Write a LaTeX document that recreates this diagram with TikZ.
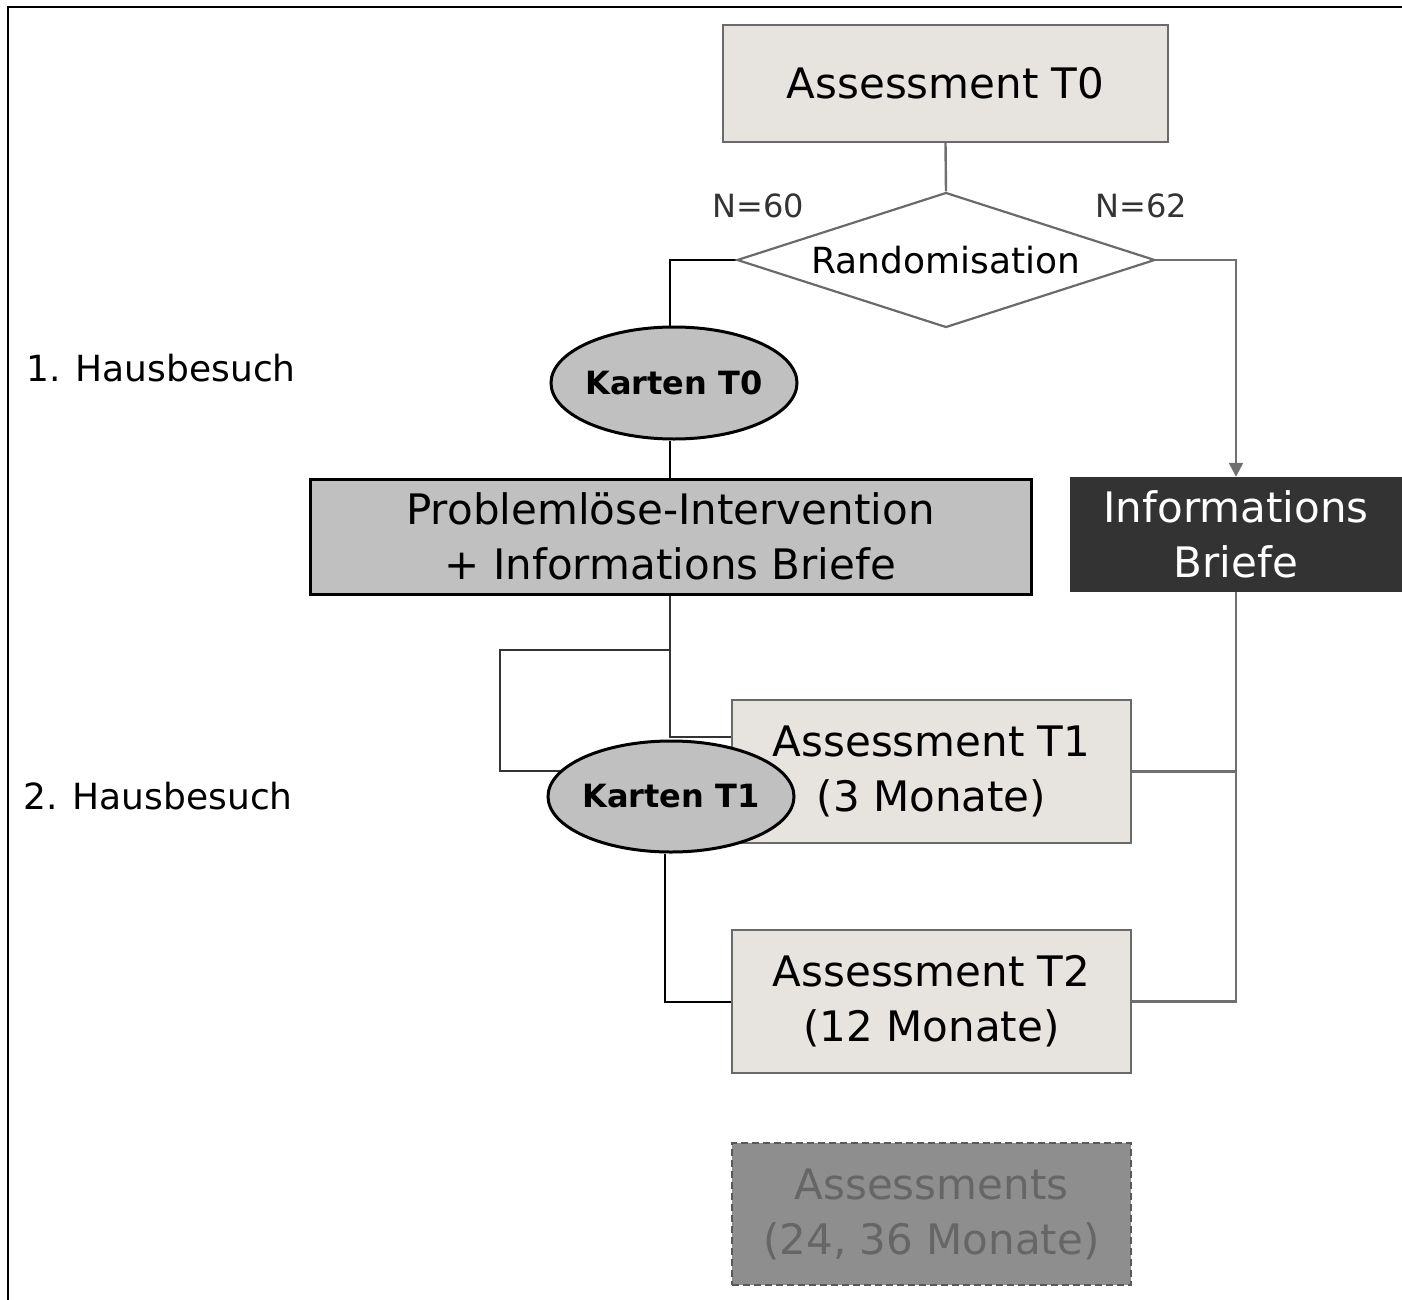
\documentclass[tikz,border=0pt]{standalone}
\usepackage{fontspec}
\setmainfont{DejaVu Sans}
\usetikzlibrary{shapes.geometric,arrows.meta,backgrounds}
\definecolor{boxfill}{HTML}{E7E4E0}
\definecolor{boxline}{HTML}{6A6A6A}
\definecolor{midgray}{HTML}{C0C0C0}
\definecolor{darkbox}{HTML}{333333}
\definecolor{conngray}{HTML}{707070}
\definecolor{dashfill}{HTML}{8E8E8E}
\definecolor{dashtext}{HTML}{666666}
\begin{document}
\begin{tikzpicture}[x=1pt,y=-1pt,
  every node/.style={inner sep=0pt, align=center},
  abox/.style={rectangle, draw=boxline, line width=2.2pt, fill=boxfill, font=\fontsize{42}{55}\selectfont},
  kbox/.style={ellipse, draw=black, line width=3pt, fill=midgray, font=\bfseries\fontsize{32}{36}\selectfont},
  conn/.style={line width=2pt, draw=black},
  gconn/.style={line width=2.4pt, draw=conngray},
  lbl/.style={font=\fontsize{32}{36}\selectfont}
]
\useasboundingbox (0,0) rectangle (1402,1300);
\draw[line width=2pt] (8,1300) -- (8,7) -- (1402,7);

\node[abox, minimum width=445pt, minimum height=117pt] (t0) at (945.5,83.5) {Assessment T0};
\node[diamond, aspect=3.096, draw=boxline, line width=2.2pt, fill=white, minimum width=418pt, minimum height=135pt,
      font=\fontsize{36}{40}\selectfont] (rand) at (946,260) {Randomisation};
\node[lbl, text=black!80] (n60) at (758,206) {N=60};
\node[lbl, text=black!80] (n62) at (1141,206) {N=62};
\node[kbox, minimum width=246pt, minimum height=112pt] (k0) at (674,383) {\makebox[0pt]{Karten T0}};
\node[rectangle, draw=black, line width=3pt, fill=midgray, minimum width=721pt, minimum height=115pt,
      font=\fontsize{42}{55}\selectfont] (pl) at (670.5,536.5) {Problemlöse-Intervention\\+ Informations Briefe};
\node[rectangle, fill=darkbox, text=white, minimum width=332pt, minimum height=115pt,
      font=\fontsize{42}{55}\selectfont] (ib) at (1236,534.5) {Informations\\Briefe};
\node[abox, minimum width=399pt, minimum height=143pt] (t1) at (931.5,771.5) {Assessment T1\\(3 Monate)};
\node[kbox, minimum width=246pt, minimum height=111pt] (k1) at (671,796.5) {\makebox[0pt]{Karten T1}};
\node[abox, minimum width=399pt, minimum height=143pt] (t2) at (931.5,1001.5) {Assessment T2\\(12 Monate)};
\node[rectangle, draw=black!65, dash pattern=on 7pt off 4pt, line width=2.2pt, fill=dashfill, text=dashtext,
      minimum width=399pt, minimum height=142pt, font=\fontsize{42}{55}\selectfont] (ta) at (931.5,1214) {Assessments\\(24, 36 Monate)};
\node[font=\fontsize{36}{40}\selectfont] (h1) at (161,368) {1. Hausbesuch};
\node[font=\fontsize{36}{40}\selectfont] (h2) at (158,796) {2. Hausbesuch};

\coordinate (a1) at (670,737);
\coordinate (a2) at (735,737);
\coordinate (a3) at (735,746);
\coordinate (l1) at (670,650);
\coordinate (l2) at (500,650);
\coordinate (l3) at (500,771);
\coordinate (l4) at (600,771);

\begin{scope}[on background layer]
  \draw[gconn] (t0.south) -- (rand.north);
  \draw[conn] (rand.west) -| (k0.north -| a1);
  \draw[gconn, -{Triangle[length=14pt,width=14pt]}] (rand.east) -| (ib.north);
  \draw[conn] (k0.south -| a1) -- (a1 |- pl.north);
  \draw[conn, draw=black!80] (pl.south -| a1) -- (a1) -- (a2) -- (a3);
  \draw[conn, draw=black!80] (l1) -- (l2) -- (l3) -- (l4);
  \draw[conn] (k1.south -| 665,0) |- (t2.west);
  \draw[gconn] (ib.south) |- (t2.east);
  \draw[gconn] (t1.east) -- (t1.east -| ib.south);
\end{scope}
\end{tikzpicture}
\end{document}
